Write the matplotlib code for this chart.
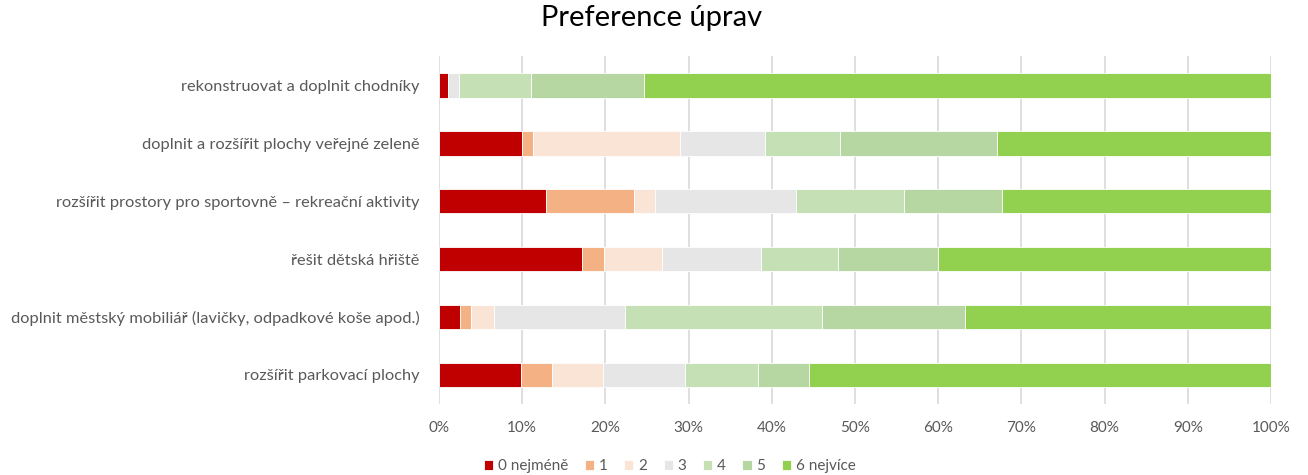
import matplotlib
matplotlib.use("Agg")
import matplotlib.pyplot as plt
from matplotlib.ticker import PercentFormatter
import numpy as np

plt.rcParams['font.family'] = ['Lato', 'DejaVu Sans']

categories = [
    "rekonstruovat a doplnit chodníky",
    "doplnit a rozšířit plochy veřejné zeleně",
    "rozšířit prostory pro sportovně – rekreační aktivity",
    "řešit dětská hřiště",
    "doplnit městský mobiliář (lavičky, odpadkové koše apod.)",
    "rozšířit parkovací plochy",
]
series_names = ["0 nejméně", "1", "2", "3", "4", "5", "6 nejvíce"]
# percentages per category (rows) for each series (columns)
v0 = [1.1, 10.0, 12.9, 17.2, 2.5, 9.9]
v1 = [0.0, 1.3, 10.5, 2.6, 1.3, 3.7]
v2 = [0.0, 17.7, 2.6, 7.0, 2.8, 6.1]
v3 = [1.3, 10.2, 16.9, 11.9, 15.8, 9.9]
v4 = [8.7, 9.0, 13.0, 9.3, 23.6, 8.7]
v5 = [13.5, 18.9, 11.8, 12.0, 17.2, 6.2]
v6 = [75.4, 32.9, 32.3, 40.0, 36.8, 55.5]
values = [v0, v1, v2, v3, v4, v5, v6]
colors = ["#C00000", "#F4B183", "#FAE4D5", "#E6E6E6", "#C5E0B4", "#B7D7A2", "#92D050"]

fig = plt.figure(figsize=(13.08, 4.75), dpi=100)
ax = fig.add_axes([0.3356, 0.1495, 0.6361, 0.7325])

y = np.arange(len(categories))[::-1]
left = np.zeros(len(categories))
handles = []
for name, vals, c in zip(series_names, values, colors):
    vals = np.array(vals)
    b = ax.barh(y, vals, left=left, height=0.43, color=c, edgecolor="white",
                linewidth=0.6, label=name, zorder=3)
    handles.append(b)
    left += vals

ax.set_xlim(0, 100)
ax.set_ylim(-0.5, len(categories) - 0.5)
ax.set_yticks(y)
ax.set_yticklabels(categories)
ax.set_xticks(np.arange(0, 101, 10))
ax.xaxis.set_major_formatter(PercentFormatter(decimals=0))
ax.grid(axis="x", color="#D9D9D9", linewidth=1.2, zorder=0)
for s in ax.spines.values():
    s.set_visible(False)
ax.tick_params(axis="x", length=0, labelsize=11, colors="#595959", pad=12)
ax.tick_params(axis="y", length=0, labelsize=11.8, colors="#595959", pad=14)

fig.suptitle("Preference úprav", fontsize=21, color="#000000", y=0.99, x=0.498)

fig.legend(handles=handles, labels=series_names, loc="lower center",
           bbox_to_anchor=(0.512, -0.025), ncol=7, frameon=False,
           fontsize=11, handlelength=0.6, handleheight=0.6, handletextpad=0.3,
           columnspacing=1.1, labelcolor="#595959")

fig.savefig("out.png", dpi=100)
